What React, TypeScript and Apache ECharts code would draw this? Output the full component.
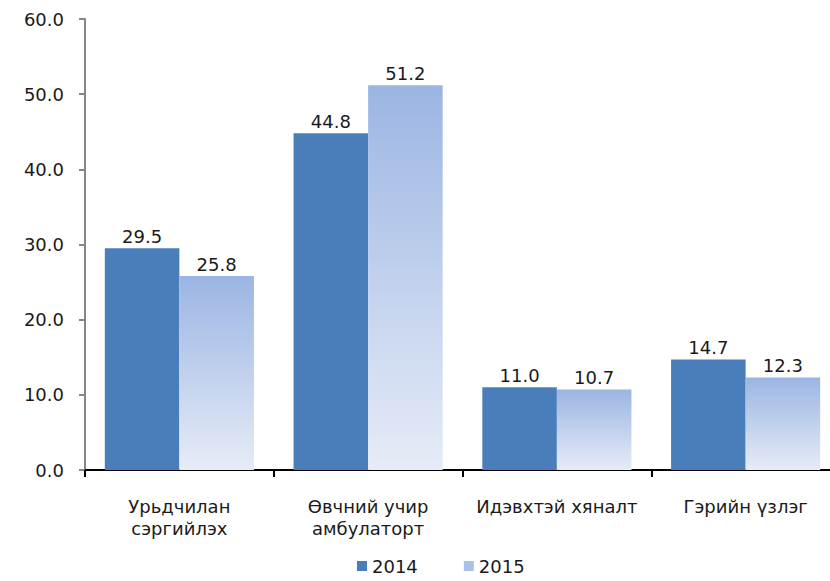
import React, { useEffect, useRef } from "react";
import * as echarts from "echarts";

const categories = [
  "Урьдчилан\nсэргийлэх",
  "Өвчний учир\nамбулаторт",
  "Идэвхтэй хяналт",
  "Гэрийн үзлэг",
];
const seriesNames = ["2014", "2015"];
const values2014 = [29.5, 44.8, 11.0, 14.7];
const values2015 = [25.8, 51.2, 10.7, 12.3];
const yMin = 0;
const yMax = 60;
const yInterval = 10;

const FONT = "DejaVu Sans";
const TEXT = "#1a1a1a";

export default function App() {
  const ref = useRef<HTMLDivElement>(null);

  useEffect(() => {
    if (!ref.current) return;
    const chart = echarts.init(ref.current, undefined, { renderer: "svg" });
    const labelCfg = {
      show: true,
      position: "top",
      distance: 3,
      color: TEXT,
      fontFamily: FONT,
      fontSize: 18,
      formatter: (p: any) => Number(p.value).toFixed(1),
    };
    chart.setOption({
      animation: false,
      backgroundColor: "#ffffff",
      textStyle: { fontFamily: FONT },
      grid: { left: 85, top: 19, width: 755, height: 451, containLabel: false },
      legend: {
        left: 357,
        top: 557,
        padding: 0,
        itemWidth: 10,
        itemHeight: 10,
        itemGap: 46,
        icon: "rect",
        textStyle: { color: TEXT, fontFamily: FONT, fontSize: 18, lineHeight: 18 },
        data: [
          { name: seriesNames[0], itemStyle: { color: "#4a7ebb" } },
          { name: seriesNames[1], itemStyle: { color: "#a9c0e8" } },
        ],
      },
      xAxis: {
        type: "category",
        data: categories,
        axisLine: { show: true, lineStyle: { color: "#000000", width: 2 } },
        axisTick: { show: true, length: 7, lineStyle: { color: "#000000", width: 2 } },
        axisLabel: {
          color: TEXT,
          fontFamily: FONT,
          fontSize: 18,
          lineHeight: 22,
          margin: 25,
          interval: 0,
        },
        splitLine: { show: false },
      },
      yAxis: {
        type: "value",
        min: yMin,
        max: yMax,
        interval: yInterval,
        axisLine: { show: true, lineStyle: { color: "#868686", width: 2 } },
        axisTick: { show: true, length: 6, lineStyle: { color: "#868686", width: 2 } },
        axisLabel: {
          color: TEXT,
          fontFamily: FONT,
          fontSize: 18,
          margin: 21,
          formatter: (v: number) => v.toFixed(1),
        },
        splitLine: { show: false },
      },
      series: [
        {
          name: seriesNames[0],
          type: "bar",
          data: values2014,
          barGap: "0%",
          barCategoryGap: "21%",
          itemStyle: { color: "#4a7ebb" },
          label: labelCfg,
        },
        {
          name: seriesNames[1],
          type: "bar",
          data: values2015,
          barGap: "0%",
          barCategoryGap: "21%",
          itemStyle: {
            color: new echarts.graphic.LinearGradient(0, 0, 0, 1, [
              { offset: 0, color: "#9bb5e3" },
              { offset: 1, color: "#e6ecf7" },
            ]),
          },
          label: labelCfg,
        },
      ],
    });
    return () => chart.dispose();
  }, []);

  return (
    <div
      style={{ position: "absolute", left: 0, top: 0, width: 830, height: 581, overflow: "hidden", background: "#fff" }}
    >
      <div ref={ref} style={{ width: 846, height: 581 }} />
    </div>
  );
}
